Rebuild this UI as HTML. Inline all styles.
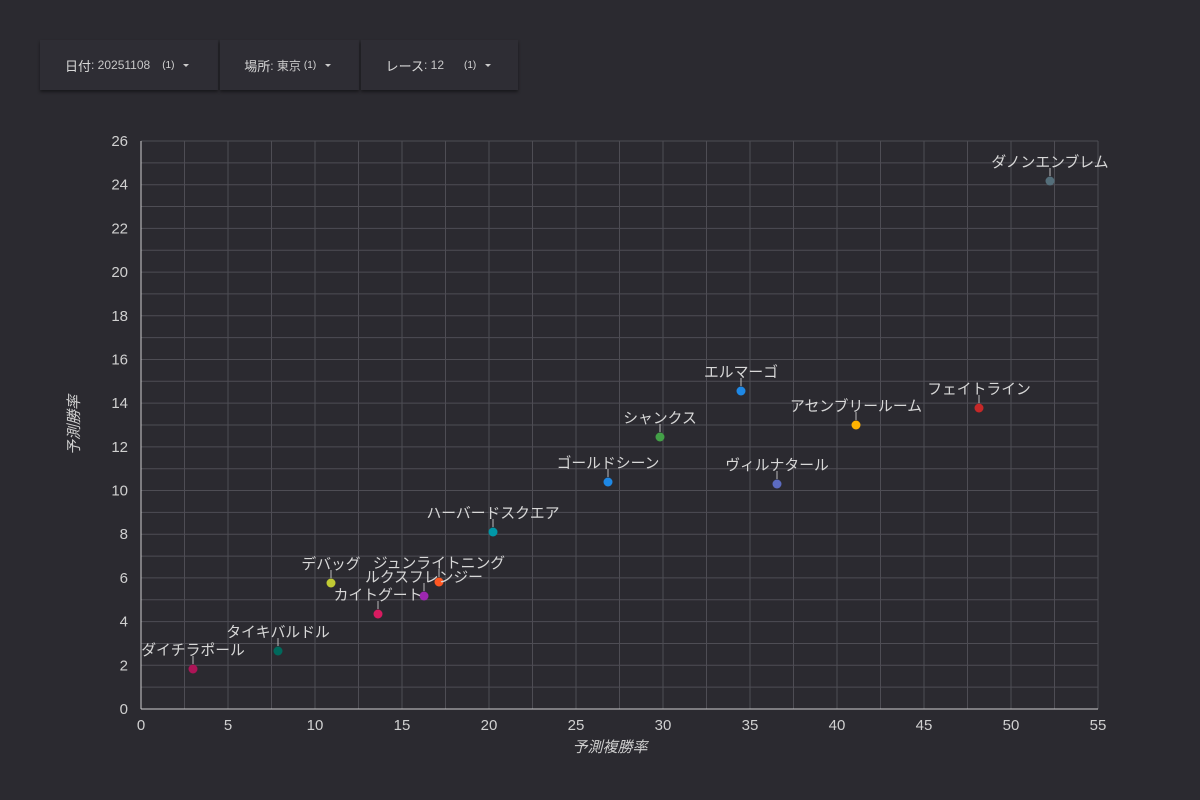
<!DOCTYPE html>
<html><head><meta charset="utf-8"><style>
html,body{margin:0;padding:0;background:#2b2a30;width:1200px;height:800px;overflow:hidden;font-family:"Liberation Sans","Noto Sans CJK JP",sans-serif;}
.bar{position:absolute;left:40px;top:40px;width:480px;height:50px;display:flex;}
.f{height:50px;background:#2e2d34;box-shadow:0 2px 3px rgba(0,0,0,0.45);color:#d8d8d8;font-size:13px;display:flex;align-items:center;box-sizing:border-box;margin-right:2px;}
.f small{font-size:12px;color:#c8c8c8}
.f sup{font-size:10px;margin-left:6px}
.ar{display:inline-block;width:0;height:0;border-left:3px solid transparent;border-right:3px solid transparent;border-top:3px solid #ccc;margin-left:9px}
</style></head><body>
<div class="bar">
<div class="f" style="width:179px;padding-left:25px">日付<small>: 20251108</small><sup style="margin-left:12px">(1)</sup><span class="ar"></span></div>
<div class="f" style="width:139px;padding-left:24px">場所<small>: 東京</small><sup style="margin-left:3px">(1)</sup><span class="ar"></span></div>
<div class="f" style="width:158px;padding-left:25px">レース<small>: 12</small><sup style="margin-left:20px">(1)</sup><span class="ar"></span></div>
</div>
<svg width="1200" height="800" style="position:absolute;left:0;top:0" font-family="Liberation Sans, Noto Sans CJK JP, sans-serif">
<g id="grid" stroke="#4e4d54" stroke-width="1"></g>
<line x1="141" y1="141" x2="141" y2="709" stroke="#cfcfcf"/>
<line x1="141" y1="709" x2="1098" y2="709" stroke="#cfcfcf"/>
<g id="ticks" fill="#d0d0d0" font-size="15"></g>
<text x="610" y="752" fill="#cfcfcf" font-size="15" font-style="italic" text-anchor="middle">予測複勝率</text>
<text transform="translate(79,425) rotate(-90)" fill="#cfcfcf" font-size="15" font-style="italic" text-anchor="middle">予測勝率</text>
<g id="pts"></g>
</svg>
<script>
var ns="http://www.w3.org/2000/svg";
function el(t,a,p,txt){var e=document.createElementNS(ns,t);for(var k in a)e.setAttribute(k,a[k]);if(txt)e.textContent=txt;document.getElementById(p).appendChild(e);}
var X=function(v){return 141+v*957/55},Y=function(v){return 709-v*568/26};
for(var i=1;i<=22;i++){var x=X(i*2.5);el('line',{x1:x,y1:141,x2:x,y2:709},'grid');}
for(var j=1;j<=26;j++){var y=Y(j);el('line',{x1:141,y1:y,x2:1098,y2:y},'grid');}
for(var i=0;i<=11;i++)el('text',{x:X(i*5),y:730,'text-anchor':'middle'},'ticks',''+i*5);
for(var j=0;j<=13;j++)el('text',{x:128,y:Y(j*2)+5,'text-anchor':'end'},'ticks',''+j*2);
var P=[[193,669,'ダイチラポール','#ad1457'],[278,651,'タイキバルドル','#00695c'],[331,583,'デバッグ','#c0ca33'],[439,582,'ジュンライトニング','#ff5722'],[424,596,'ルクスフレンジー','#9c27b0'],[378,614,'カイトグート','#d81b60'],[493,532,'ハーバードスクエア','#0097a7'],[608,482,'ゴールドシーン','#1e88e5'],[660,437,'シャンクス','#43a047'],[741,391,'エルマーゴ','#1e88e5'],[777,484,'ヴィルナタール','#5c6bc0'],[856,425,'アセンブリールーム','#ffb300'],[979,408,'フェイトライン','#c62828'],[1050,181,'ダノンエンブレム','#546e7a']];
P.forEach(function(p){el('line',{x1:p[0],y1:p[1]-5,x2:p[0],y2:p[1]-13,stroke:'#bbb'},'pts');el('circle',{cx:p[0],cy:p[1],r:4.5,fill:p[3]},'pts');el('text',{x:p[0],y:p[1]-14,'text-anchor':'middle',fill:'#d8d8d8','font-size':14.8},'pts',p[2]);});
</script>
</body></html>
